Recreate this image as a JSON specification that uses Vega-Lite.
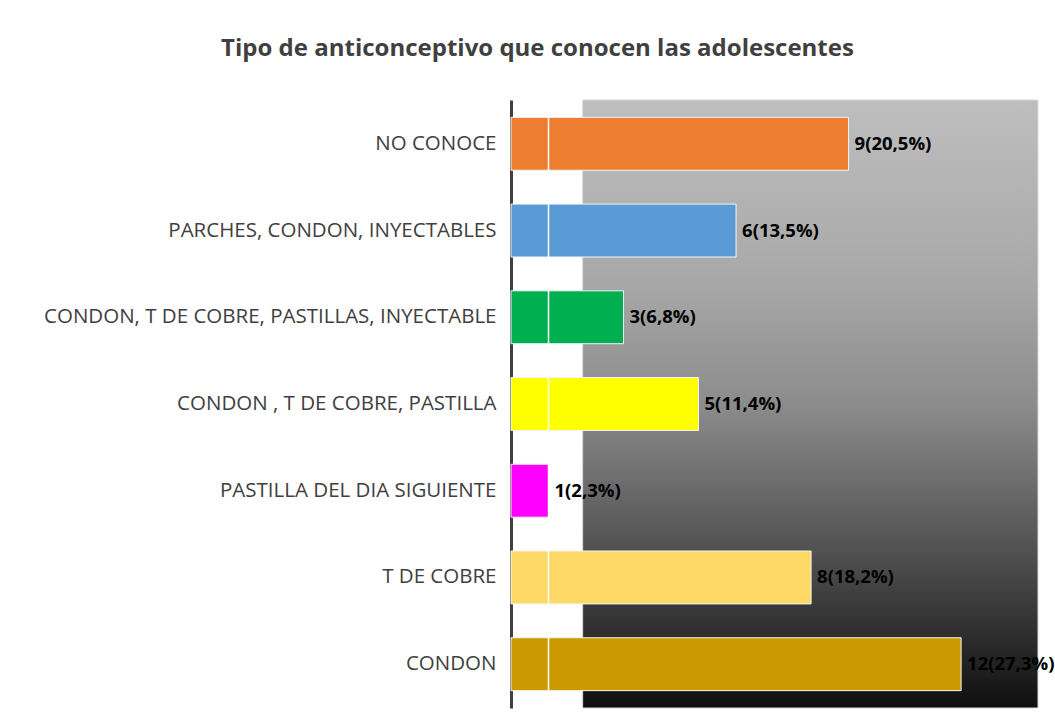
{
  "$schema": "https://vega.github.io/schema/vega-lite/v6.json",
  "autosize": {"type": "none"},
  "width": 527,
  "height": 608,
  "padding": {"left": 511, "top": 100, "right": 17, "bottom": 20},
  "background": "white",
  "title": {
    "text": "Tipo de anticonceptivo que conocen las adolescentes",
    "font": "Open Sans",
    "fontSize": 24,
    "fontWeight": "bold",
    "color": "#404040",
    "anchor": "middle",
    "frame": "group",
    "dx": -237,
    "baseline": "alphabetic",
    "offset": 19
  },
  "config": {"view": {"stroke": null}},
  "layer": [
    {
      "data": {"values": [{"desde": 1.91, "hasta": 14.05}]},
      "mark": {
        "type": "rect",
        "stroke": "#d9d9d9",
        "strokeWidth": 1,
        "fill": {
          "gradient": "linear",
          "x1": 0, "y1": 0, "x2": 0, "y2": 1,
          "stops": [
            {"offset": 0, "color": "#bebebe"},
            {"offset": 0.3, "color": "#a8a8a8"},
            {"offset": 0.5, "color": "#8c8c8c"},
            {"offset": 0.75, "color": "#4f4f4f"},
            {"offset": 1, "color": "#0f0f0f"}
          ]
        }
      },
      "encoding": {
        "x": {"field": "desde", "type": "quantitative", "scale": {"domain": [0, 14.05], "nice": false}, "axis": null},
        "x2": {"field": "hasta"}
      }
    },
    {
      "data": {
        "values": [
          {"tipo": "NO CONOCE", "n": 9, "label": "9(20,5%)"},
          {"tipo": "PARCHES, CONDON, INYECTABLES", "n": 6, "label": "6(13,5%)"},
          {"tipo": "CONDON, T DE COBRE, PASTILLAS, INYECTABLE", "n": 3, "label": "3(6,8%)"},
          {"tipo": "CONDON , T DE COBRE, PASTILLA", "n": 5, "label": "5(11,4%)"},
          {"tipo": "PASTILLA DEL DIA SIGUIENTE", "n": 1, "label": "1(2,3%)"},
          {"tipo": "T DE COBRE", "n": 8, "label": "8(18,2%)"},
          {"tipo": "CONDON", "n": 12, "label": "12(27,3%)"}
        ]
      },
      "encoding": {
        "y": {
          "field": "tipo",
          "type": "nominal",
          "sort": null,
          "scale": {"paddingInner": 0.39, "paddingOuter": 0.2},
          "axis": {
            "title": null,
            "ticks": false,
            "domainColor": "#404040",
            "domainWidth": 3,
            "labelFont": "Open Sans",
            "labelFontSize": 20.5,
            "labelColor": "#404040",
            "labelPadding": 15,
            "labelLimit": 520
          }
        },
        "x": {"field": "n", "type": "quantitative"}
      },
      "layer": [
        {
          "mark": {"type": "bar", "stroke": "#f4f4f4", "strokeWidth": 1},
          "encoding": {
            "color": {
              "field": "tipo",
              "type": "nominal",
              "legend": null,
              "scale": {
                "domain": ["NO CONOCE", "PARCHES, CONDON, INYECTABLES", "CONDON, T DE COBRE, PASTILLAS, INYECTABLE", "CONDON , T DE COBRE, PASTILLA", "PASTILLA DEL DIA SIGUIENTE", "T DE COBRE", "CONDON"],
                "range": ["#ED7D31", "#5B9BD5", "#00B050", "#FFFF00", "#FF00FF", "#FFD966", "#CC9900"]
              }
            }
          }
        },
        {
          "mark": {"type": "text", "align": "left", "baseline": "middle", "dx": 6, "font": "Open Sans", "fontSize": 18.5, "fontWeight": "bold", "color": "black"},
          "encoding": {
            "text": {"field": "label"}
          }
        }
      ]
    },
    {
      "data": {"values": [{"v": 1}]},
      "mark": {"type": "rule", "color": "white", "strokeWidth": 1.5},
      "encoding": {
        "x": {"field": "v", "type": "quantitative"}
      }
    }
  ]
}
